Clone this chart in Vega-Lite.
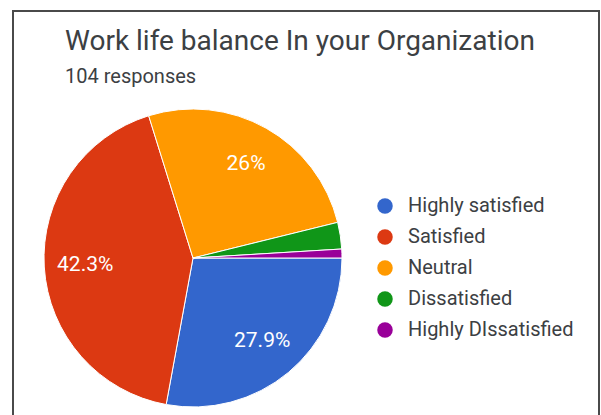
{
  "$schema": "https://vega.github.io/schema/vega-lite/v6.json",
  "width": 586,
  "height": 410,
  "autosize": {"type": "none"},
  "padding": {"left": 13, "top": 11, "right": 2, "bottom": 0},
  "background": "white",
  "view": {"stroke": "#4a4a4a", "strokeWidth": 2},
  "config": {
    "view": {"stroke": "#4a4a4a", "strokeWidth": 2},
    "font": "Roboto"
  },
  "title": {
    "text": "Work life balance In your Organization",
    "subtitle": "104 responses",
    "anchor": "start",
    "frame": "group",
    "orient": "top",
    "offset": -76,
    "dx": 52,
    "font": "Roboto",
    "fontSize": 28,
    "fontWeight": "normal",
    "color": "#3c4043",
    "subtitleFont": "Roboto",
    "subtitleFontSize": 20,
    "subtitleColor": "#3c4043",
    "subtitlePadding": 11
  },
  "data": {
    "values": [
      {"idx": 1, "answer": "Highly satisfied", "count": 29, "label": "27.9%"},
      {"idx": 2, "answer": "Satisfied", "count": 44, "label": "42.3%"},
      {"idx": 3, "answer": "Neutral", "count": 27, "label": "26%"},
      {"idx": 4, "answer": "Dissatisfied", "count": 3, "label": ""},
      {"idx": 5, "answer": "Highly DIssatisfied", "count": 1, "label": ""}
    ]
  },
  "encoding": {
    "theta": {"field": "count", "type": "quantitative", "stack": true, "scale": {"range": [1.5708, 7.854]}},
    "order": {"field": "idx", "type": "quantitative"}
  },
  "layer": [
    {
      "mark": {"type": "arc", "outerRadius": 149, "x": 180, "y": 247, "stroke": "white", "strokeWidth": 1},
      "encoding": {
        "color": {
          "field": "answer",
          "type": "nominal",
          "sort": ["Highly satisfied", "Satisfied", "Neutral", "Dissatisfied", "Highly DIssatisfied"],
          "scale": {
            "domain": ["Highly satisfied", "Satisfied", "Neutral", "Dissatisfied", "Highly DIssatisfied"],
            "range": ["#3366cc", "#dc3912", "#ff9900", "#109618", "#990099"]
          },
          "legend": {
            "title": null,
            "orient": "none",
            "legendX": 362,
            "legendY": 185,
            "symbolType": "circle",
            "symbolSize": 240,
            "symbolStrokeWidth": 0,
            "labelFont": "Roboto",
            "labelFontSize": 20,
            "labelColor": "#3c4043",
            "labelOffset": 13,
            "labelLimit": 400,
            "rowPadding": 11
          }
        }
      }
    },
    {
      "mark": {"type": "text", "radius": 108, "x": 180, "y": 247, "fill": "white", "font": "Roboto", "fontSize": 21},
      "encoding": {
        "text": {"field": "label", "type": "nominal"}
      }
    }
  ]
}
